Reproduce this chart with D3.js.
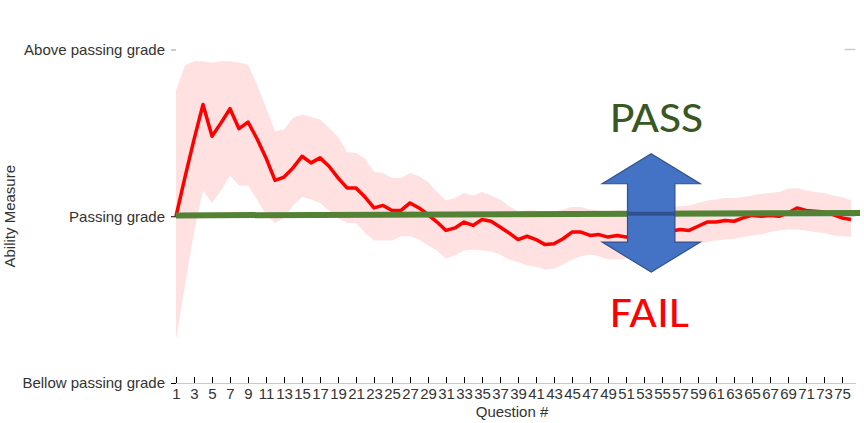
<!DOCTYPE html>
<html>
<head>
<meta charset="utf-8">
<script src="https://cdn.jsdelivr.net/npm/d3@7"></script>
<style>
    body { margin: 0; background: #fff; }
    svg { display: block; font-family: "Liberation Sans", Arial, sans-serif; }
    .tick text { fill: #333; font-size: 15px; }
</style>
</head>
<body>
<svg id="chart" width="864" height="423"></svg>
<script>
// question numbers 1..76
const questions = d3.range(1, 77)
const xTickValues = d3.range(1, 77, 2)

// ability estimate after each question (0 = passing grade)
const abilityEstimate = [
    0.00, 0.47, 0.92, 1.34, 0.96, 1.12, 1.29, 1.05, 1.13, 0.93,
    0.70, 0.43, 0.47, 0.58, 0.72, 0.64, 0.70, 0.60, 0.46, 0.34,
    0.34, 0.23, 0.10, 0.13, 0.07, 0.07, 0.16, 0.10, 0.02, -0.07,
    -0.17, -0.14, -0.07, -0.11, -0.04, -0.06, -0.13, -0.20, -0.28, -0.24,
    -0.28, -0.34, -0.33, -0.27, -0.19, -0.19, -0.23, -0.22, -0.25, -0.23,
    -0.25, -0.25, -0.24, -0.23, -0.20, -0.18, -0.16, -0.17, -0.12, -0.07,
    -0.07, -0.05, -0.06, -0.02, 0.01, 0.00, 0.01, 0.00, 0.04, 0.10,
    0.07, 0.06, 0.05, 0.02, -0.02, -0.04,
]

// confidence band
const upperBound = [
    1.51, 1.81, 1.86, 1.86, 1.84, 1.86, 1.86, 1.84, 1.82, 1.58,
    1.30, 1.02, 1.04, 1.18, 1.22, 1.19, 1.16, 1.06, 0.95, 0.77,
    0.76, 0.69, 0.53, 0.52, 0.46, 0.46, 0.52, 0.48, 0.41, 0.29,
    0.19, 0.22, 0.28, 0.25, 0.29, 0.25, 0.20, 0.12, 0.06, 0.07,
    0.07, 0.04, 0.05, 0.08, 0.11, 0.11, 0.08, 0.07, 0.06, 0.07,
    0.07, 0.07, 0.08, 0.10, 0.11, 0.11, 0.12, 0.13, 0.16, 0.19,
    0.20, 0.22, 0.22, 0.23, 0.25, 0.27, 0.28, 0.29, 0.33, 0.34,
    0.31, 0.29, 0.28, 0.25, 0.23, 0.19,
]
const lowerBound = [
    -1.47, -0.83, -0.19, 0.31, 0.16, 0.31, 0.49, 0.37, 0.37, 0.20,
    0.02, -0.08, -0.02, 0.13, 0.23, 0.20, 0.16, 0.07, -0.02, -0.08,
    -0.08, -0.20, -0.29, -0.29, -0.29, -0.24, -0.24, -0.28, -0.35, -0.41,
    -0.51, -0.47, -0.41, -0.40, -0.41, -0.42, -0.46, -0.52, -0.55, -0.59,
    -0.61, -0.64, -0.63, -0.58, -0.52, -0.48, -0.46, -0.48, -0.52, -0.52,
    -0.51, -0.49, -0.48, -0.46, -0.43, -0.40, -0.37, -0.36, -0.34, -0.31,
    -0.29, -0.28, -0.27, -0.25, -0.23, -0.22, -0.19, -0.17, -0.16, -0.16,
    -0.17, -0.19, -0.20, -0.23, -0.24, -0.25,
]

const yTickValues = [2, 0, -2]
const yTickLabels = ["Above passing grade", "Passing grade", "Bellow passing grade"]

// green pass threshold drawn over the chart
const passLine = [{ q: 1, v: 0.01 }, { q: 77, v: 0.04 }]

// pass/fail arrow annotation (in question / ability units)
const arrowSpec = { q: 53.8, top: 0.75, headBase: 0.39, lowHeadBase: -0.31, bottom: -0.67 }

let svg = d3.select("#chart")

let x = d3.scaleLinear().domain([1, 76.5]).range([176, 855.5])
let y = d3.scaleLinear().domain([-2, 2]).range([383, 49.5])

let rows = questions.map((q, i) => ({ q: q, v: abilityEstimate[i], hi: upperBound[i], lo: lowerBound[i] }))

// band
let area = d3.area().x((d) => x(d.q)).y0((d) => y(d.lo)).y1((d) => y(d.hi))
svg.append("path").datum(rows).attr("d", area).attr("fill", "#ffe1e1")

// grid lines
svg.append("line")
    .attr("x1", x(1)).attr("x2", x.range()[1])
    .attr("y1", y(0)).attr("y2", y(0))
    .attr("stroke", "#d4d4d4").attr("stroke-width", 1.5)
svg.append("line")
    .attr("x1", x(75.3)).attr("x2", x.range()[1])
    .attr("y1", y(2)).attr("y2", y(2))
    .attr("stroke", "#cccccc").attr("stroke-width", 1.5)

// x axis
let xAxis = d3.axisBottom(x).tickValues(xTickValues).tickSizeInner(-6).tickSizeOuter(0).tickPadding(5)
let gx = svg.append("g").attr("transform", "translate(0," + y(-2) + ")").call(xAxis)
gx.select(".domain").attr("stroke", "#c8c8c8")
gx.selectAll(".tick line").attr("stroke", "#000")
gx.selectAll(".tick text").attr("font-size", 15).attr("font-family", null)

// y axis
let yAxis = d3.axisLeft(y).tickValues(yTickValues).tickSize(5).tickPadding(6)
    .tickFormat((d, i) => yTickLabels[i])
let gy = svg.append("g").attr("transform", "translate(" + x(1) + ",0)").call(yAxis)
gy.select(".domain").remove()
gy.selectAll(".tick line").attr("stroke", (d) => (d == 2 ? "#999" : "#000"))
gy.selectAll(".tick text").attr("font-size", 15).attr("font-family", null)

// ability line
let line = d3.line().x((d) => x(d.q)).y((d) => y(d.v))
svg.append("path").datum(rows).attr("d", line)
    .attr("fill", "none").attr("stroke", "#ff0000").attr("stroke-width", 3.5)
    .attr("stroke-linejoin", "round")

// pass line
let passPath = d3.line().x((d) => x(d.q)).y((d) => y(d.v))
svg.append("path").datum(passLine).attr("d", passPath)
    .attr("fill", "none").attr("stroke", "#548235").attr("stroke-width", 6)

// axis titles
svg.append("text").text("Ability Measure")
    .attr("transform", "translate(15," + y(0) + ") rotate(-90)")
    .attr("text-anchor", "middle").attr("font-size", 15).attr("fill", "#333")
svg.append("text").text("Question #")
    .attr("x", 512).attr("y", 417)
    .attr("text-anchor", "middle").attr("font-size", 15).attr("fill", "#333")

// double arrow
let cx = x(arrowSpec.q)
let headW = 49
let shaftW = 23.7
let arrowPts = [
    [cx, y(arrowSpec.top)],
    [cx + headW, y(arrowSpec.headBase)],
    [cx + shaftW, y(arrowSpec.headBase)],
    [cx + shaftW, y(arrowSpec.lowHeadBase)],
    [cx + headW, y(arrowSpec.lowHeadBase)],
    [cx, y(arrowSpec.bottom)],
    [cx - headW, y(arrowSpec.lowHeadBase)],
    [cx - shaftW, y(arrowSpec.lowHeadBase)],
    [cx - shaftW, y(arrowSpec.headBase)],
    [cx - headW, y(arrowSpec.headBase)],
]
svg.append("polygon")
    .attr("points", arrowPts.map((p) => p.join(",")).join(" "))
    .attr("fill", "#4472c4").attr("stroke", "#2f528f").attr("stroke-width", 1.2)
    .attr("stroke-linejoin", "miter")

// pass line seen through the arrow shaft
let passAt = d3.scaleLinear().domain([passLine[0].q, passLine[1].q]).range([passLine[0].v, passLine[1].v])
svg.append("line")
    .attr("x1", cx - shaftW).attr("x2", cx + shaftW)
    .attr("y1", y(passAt(arrowSpec.q))).attr("y2", y(passAt(arrowSpec.q)))
    .attr("stroke", "#2f528f").attr("stroke-width", 4)

// PASS / FAIL labels
svg.append("text").text("PASS")
    .attr("x", 610).attr("y", 131.5)
    .attr("font-family", "Carlito, Lato, sans-serif").attr("font-size", 44)
    .attr("textLength", 93).attr("lengthAdjust", "spacingAndGlyphs")
    .attr("fill", "#385723")
svg.append("text").text("FAIL")
    .attr("x", 610).attr("y", 327)
    .attr("font-family", "Carlito, Lato, sans-serif").attr("font-size", 44)
    .attr("textLength", 79).attr("lengthAdjust", "spacingAndGlyphs")
    .attr("fill", "#ff0000")
</script>
</body>
</html>
